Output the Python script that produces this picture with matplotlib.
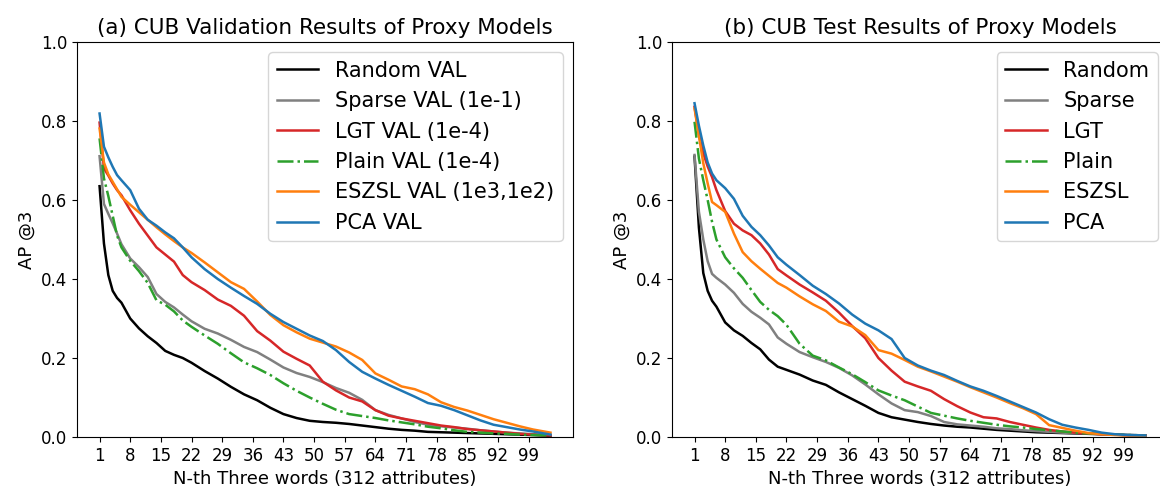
import matplotlib
matplotlib.use("Agg")
import matplotlib.pyplot as plt

n_th = [1, 2, 3, 4, 5, 6, 8, 10, 12, 14, 16, 18, 20, 22, 25, 28, 31, 34, 37, 40,
        43, 46, 49, 52, 55, 58, 61, 64, 67, 70, 73, 76, 79, 82, 85, 88, 91, 94,
        97, 100, 104]
tick_pos = list(range(1, 105, 7))

# (a) validation
val_random = [0.635, 0.49, 0.41, 0.37, 0.352, 0.34, 0.30, 0.275, 0.255, 0.238, 0.218,
              0.208, 0.2, 0.188, 0.167, 0.148, 0.127, 0.108, 0.093, 0.074, 0.058,
              0.048, 0.041, 0.038, 0.036, 0.033, 0.029, 0.025, 0.021, 0.018, 0.016,
              0.013, 0.012, 0.011, 0.010, 0.009, 0.008, 0.007, 0.006, 0.005, 0.003]
val_sparse = [0.711, 0.59, 0.565, 0.541, 0.515, 0.488, 0.452, 0.43, 0.405, 0.362, 0.342,
              0.328, 0.31, 0.293, 0.274, 0.262, 0.246, 0.228, 0.215, 0.196, 0.176,
              0.162, 0.152, 0.139, 0.124, 0.112, 0.094, 0.068, 0.056, 0.047, 0.038,
              0.031, 0.027, 0.024, 0.021, 0.017, 0.014, 0.011, 0.009, 0.007, 0.005]
val_lgt = [0.796, 0.68, 0.662, 0.642, 0.625, 0.612, 0.574, 0.54, 0.51, 0.48, 0.462,
           0.444, 0.41, 0.392, 0.372, 0.348, 0.332, 0.307, 0.268, 0.244, 0.216,
           0.198, 0.181, 0.14, 0.118, 0.1, 0.09, 0.068, 0.054, 0.047, 0.041,
           0.035, 0.029, 0.025, 0.02, 0.017, 0.014, 0.011, 0.008, 0.006, 0.004]
val_plain = [0.756, 0.655, 0.61, 0.56, 0.51, 0.48, 0.446, 0.42, 0.39, 0.346, 0.335,
             0.318, 0.295, 0.279, 0.257, 0.236, 0.212, 0.189, 0.174, 0.157, 0.136,
             0.117, 0.1, 0.084, 0.069, 0.058, 0.053, 0.048, 0.042, 0.037, 0.032,
             0.026, 0.022, 0.017, 0.013, 0.011, 0.009, 0.008, 0.006, 0.005, 0.004]
val_eszsl = [0.781, 0.695, 0.665, 0.646, 0.627, 0.608, 0.588, 0.569, 0.55, 0.531, 0.513,
             0.496, 0.48, 0.466, 0.442, 0.417, 0.392, 0.375, 0.343, 0.309, 0.283,
             0.265, 0.249, 0.239, 0.229, 0.214, 0.195, 0.161, 0.145, 0.128, 0.121,
             0.108, 0.088, 0.076, 0.067, 0.056, 0.045, 0.036, 0.027, 0.019, 0.011]
val_pca = [0.819, 0.735, 0.708, 0.684, 0.663, 0.65, 0.625, 0.578, 0.55, 0.535, 0.518,
           0.503, 0.48, 0.455, 0.425, 0.4, 0.378, 0.357, 0.337, 0.312, 0.291,
           0.274, 0.257, 0.243, 0.22, 0.19, 0.165, 0.148, 0.132, 0.117, 0.102,
           0.086, 0.079, 0.068, 0.055, 0.042, 0.031, 0.025, 0.019, 0.014, 0.006]

# (b) test
test_random = [0.71, 0.53, 0.415, 0.37, 0.345, 0.33, 0.29, 0.27, 0.256, 0.238, 0.222,
               0.196, 0.178, 0.17, 0.158, 0.143, 0.132, 0.113, 0.096, 0.079, 0.061,
               0.05, 0.044, 0.038, 0.033, 0.029, 0.026, 0.024, 0.021, 0.018, 0.016,
               0.014, 0.012, 0.011, 0.01, 0.009, 0.008, 0.007, 0.006, 0.005, 0.004]
test_sparse = [0.714, 0.57, 0.5, 0.445, 0.413, 0.403, 0.386, 0.365, 0.337, 0.317, 0.302,
               0.285, 0.252, 0.236, 0.215, 0.202, 0.19, 0.175, 0.156, 0.133, 0.108,
               0.085, 0.068, 0.063, 0.053, 0.038, 0.032, 0.029, 0.026, 0.022, 0.02,
               0.017, 0.015, 0.013, 0.011, 0.01, 0.009, 0.007, 0.006, 0.005, 0.004]
test_lgt = [0.836, 0.765, 0.718, 0.685, 0.658, 0.625, 0.572, 0.54, 0.523, 0.511, 0.49,
            0.462, 0.425, 0.409, 0.386, 0.366, 0.345, 0.315, 0.281, 0.25, 0.2,
            0.168, 0.14, 0.128, 0.117, 0.096, 0.078, 0.062, 0.05, 0.047, 0.038,
            0.031, 0.024, 0.018, 0.014, 0.011, 0.009, 0.007, 0.006, 0.004, 0.003]
test_plain = [0.798, 0.705, 0.65, 0.6, 0.545, 0.5, 0.455, 0.427, 0.403, 0.372, 0.342,
              0.322, 0.306, 0.284, 0.236, 0.206, 0.194, 0.176, 0.159, 0.139, 0.118,
              0.105, 0.093, 0.077, 0.061, 0.054, 0.047, 0.041, 0.036, 0.031, 0.027,
              0.024, 0.02, 0.017, 0.014, 0.011, 0.009, 0.008, 0.006, 0.005, 0.004]
test_eszsl = [0.832, 0.762, 0.693, 0.642, 0.595, 0.587, 0.57, 0.515, 0.468, 0.445, 0.426,
              0.408, 0.39, 0.378, 0.356, 0.336, 0.319, 0.292, 0.28, 0.258, 0.22,
              0.211, 0.195, 0.178, 0.166, 0.153, 0.14, 0.126, 0.113, 0.1, 0.086,
              0.073, 0.058, 0.03, 0.023, 0.016, 0.01, 0.007, 0.005, 0.004, 0.003]
test_pca = [0.845, 0.788, 0.738, 0.695, 0.667, 0.65, 0.63, 0.603, 0.56, 0.532, 0.511,
            0.485, 0.455, 0.436, 0.41, 0.383, 0.362, 0.338, 0.31, 0.287, 0.27,
            0.248, 0.2, 0.181, 0.168, 0.157, 0.142, 0.128, 0.117, 0.104, 0.09,
            0.076, 0.062, 0.045, 0.031, 0.024, 0.018, 0.011, 0.007, 0.005, 0.004]

styles = [("black", "-"), ("grey", "-"), ("tab:red", "-"),
          ("tab:green", "-."), ("tab:orange", "-"), ("tab:blue", "-")]

val_labels = ["Random VAL", "Sparse VAL (1e-1)", "LGT VAL (1e-4)",
              "Plain VAL (1e-4)", "ESZSL VAL (1e3,1e2)", "PCA VAL"]
test_labels = ["Random", "Sparse", "LGT", "Plain", "ESZSL", "PCA"]

val_series = [val_random, val_sparse, val_lgt, val_plain, val_eszsl, val_pca]
test_series = [test_random, test_sparse, test_lgt, test_plain, test_eszsl, test_pca]

fig = plt.figure(figsize=(11.6, 4.92), dpi=100)
ax1 = fig.add_axes([0.0664, 0.1118, 0.4276, 0.8028])
ax2 = fig.add_axes([0.5793, 0.1118, 0.4276, 0.8028])

panels = [
    (ax1, val_series, val_labels, "(a) CUB Validation Results of Proxy Models"),
    (ax2, test_series, test_labels, "(b) CUB Test Results of Proxy Models"),
]

for ax, series, labels, title in panels:
    for ys, lab, (col, ls) in zip(series, labels, styles):
        ax.plot(n_th, ys, color=col, linestyle=ls, linewidth=1.8, label=lab)
    ax.set_ylim(0, 1.0)
    ax.set_xticks(tick_pos)
    ax.tick_params(labelsize=12)
    ax.set_xlabel("N-th Three words (312 attributes)", fontsize=13)
    ax.set_ylabel("AP @3", fontsize=13)
    ax.set_title(title, fontsize=15.5)
    ax.legend(loc="upper right", fontsize=15)

fig.savefig("out.png", dpi=100)
